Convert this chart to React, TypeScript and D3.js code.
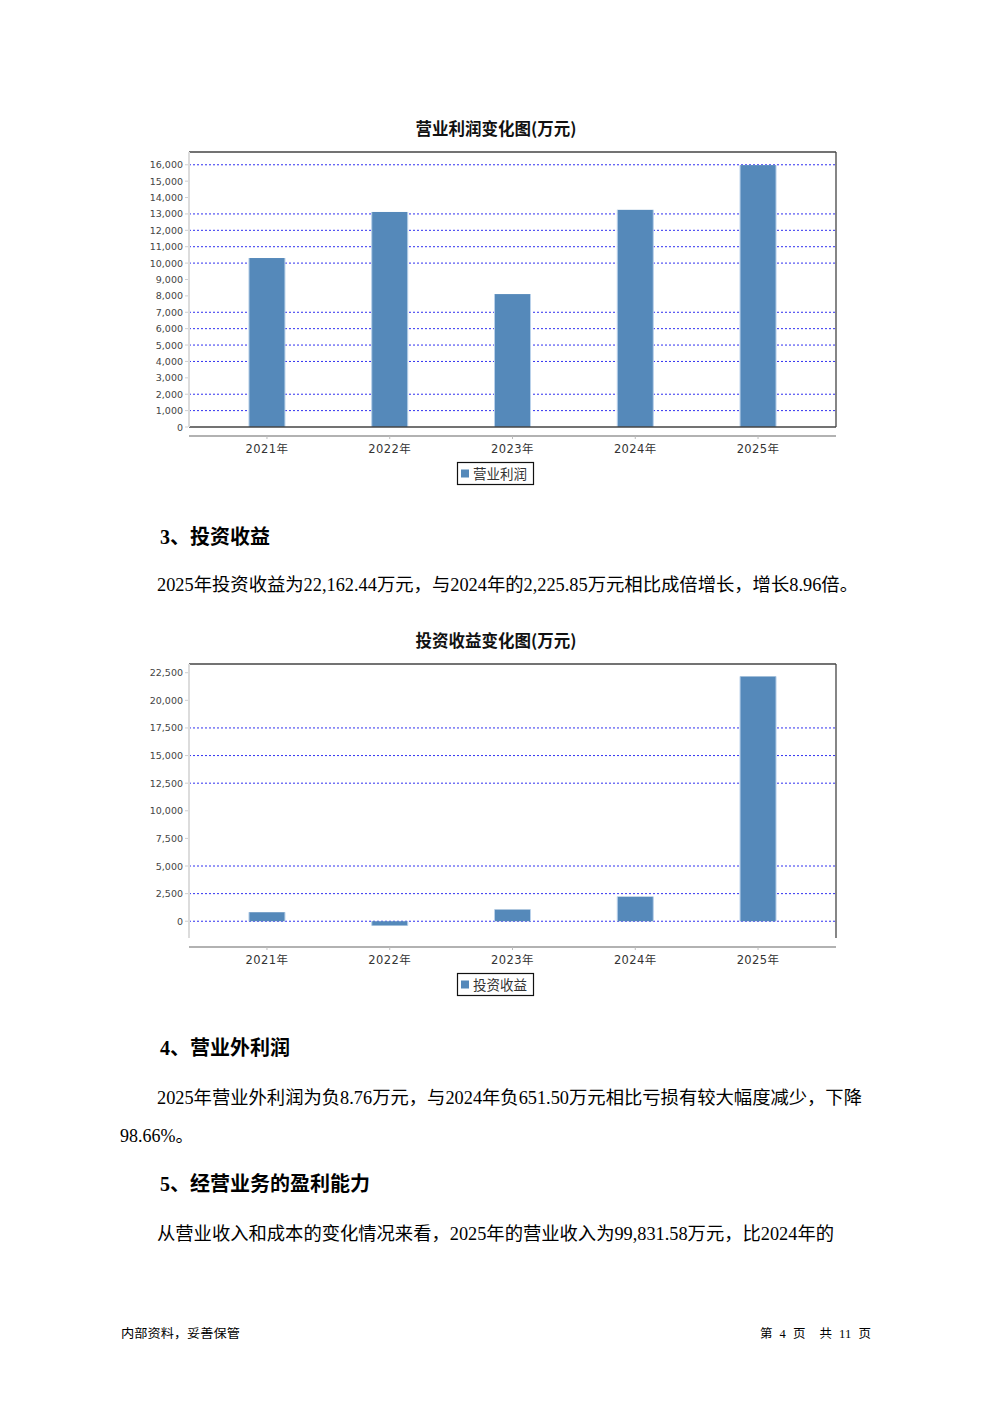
import React from "react";
import * as d3 from "d3";

const years = ["2021年", "2022年", "2023年", "2024年", "2025年"];
const operatingProfit = [10310, 13120, 8110, 13250, 15980];
const investmentIncome = [815, -390, 1060, 2225.85, 22162.44];

const profitTicks = [0, 1000, 2000, 3000, 4000, 5000, 6000, 7000, 8000, 9000, 10000, 11000, 12000, 13000, 14000, 15000, 16000];
const profitGrid = [1000, 2000, 4000, 5000, 6000, 7000, 10000, 11000, 12000, 13000, 16000];
const investTicks = [0, 2500, 5000, 7500, 10000, 12500, 15000, 17500, 20000, 22500];
const investGrid = [0, 2500, 5000, 12500, 15000, 17500];

const profitTitle = "营业利润变化图(万元)";
const profitLegend = "营业利润";
const investTitle = "投资收益变化图(万元)";
const investLegend = "投资收益";

const BAR = "#5589ba";
const GRID = "#3030f0";
const LABEL_FONT = "'DejaVu Sans', 'Noto Sans CJK SC', sans-serif";
const CJK_SANS = "'Noto Sans CJK SC', sans-serif";
const BODY_FONT = "'Liberation Serif', 'Noto Sans CJK SC', serif";

type ChartProps = {
  top: number;
  plotTop: number;
  plotBottom: number;
  axisY: number;
  values: number[];
  ticks: number[];
  grid: number[];
  title: string;
  legend: string;
  includeZeroOnly: boolean;
  bottomLine: boolean;
};

function BarChart(p: ChartProps) {
  const left = 189;
  const right = 836;
  const min = d3.min(p.values) as number;
  const max = d3.max(p.values) as number;
  let domain: [number, number];
  if (p.includeZeroOnly) {
    domain = [0, max * 1.05];
  } else {
    const r = max - min;
    domain = [min - r * 0.05, max + r * 0.05];
  }
  const y = d3.scaleLinear().domain(domain).range([p.plotBottom, p.plotTop]);
  const x = d3.scalePoint<string>().domain(years).range([left, right]).padding(0.635);
  const bw = 36;
  const fmt = d3.format(",");
  return (
    <g>
      <text x={496} y={p.top} textAnchor="middle" fontFamily={CJK_SANS} fontWeight="bold" fontSize={16.5} fill="#111">
        {p.title}
      </text>
      {p.grid.map((g) => (
        <line key={"g" + g} x1={left} x2={right} y1={y(g)} y2={y(g)} stroke={GRID} strokeWidth={1} strokeDasharray="2,2" />
      ))}
      {p.values.map((v, i) => {
        const cx = x(years[i]) as number;
        const y0 = y(0);
        const y1 = y(v);
        return (
          <g key={"b" + i}>
            <rect x={cx - bw / 2} y={Math.min(y0, y1)} width={bw} height={Math.abs(y1 - y0)} fill={BAR} />
            <line x1={cx - bw / 2} x2={cx - bw / 2} y1={Math.min(y0, y1)} y2={Math.max(y0, y1)} stroke="#b9d1ea" strokeWidth={1} />
            <line x1={cx + bw / 2} x2={cx + bw / 2} y1={Math.min(y0, y1)} y2={Math.max(y0, y1)} stroke="#b9d1ea" strokeWidth={1} />
          </g>
        );
      })}
      <line x1={left} x2={right} y1={p.plotTop} y2={p.plotTop} stroke="#444" strokeWidth={1.3} />
      <line x1={right} x2={right} y1={p.plotTop} y2={p.plotBottom} stroke="#444" strokeWidth={1.3} />
      {p.bottomLine && <line x1={left} x2={right} y1={p.plotBottom} y2={p.plotBottom} stroke="#444" strokeWidth={1.3} />}
      <line x1={left} x2={left} y1={p.plotTop} y2={p.plotBottom} stroke="#dcdcdc" strokeWidth={2} />
      {p.ticks.map((t) => (
        <g key={"t" + t}>
          <line x1={185} x2={188} y1={y(t)} y2={y(t)} stroke="#cfcfcf" strokeWidth={1} />
          <text x={183} y={y(t) + 3.5} textAnchor="end" fontFamily={LABEL_FONT} fontSize={9.5} fill="#444">
            {fmt(t)}
          </text>
        </g>
      ))}
      <line x1={left} x2={right} y1={p.axisY} y2={p.axisY} stroke="#999" strokeWidth={1.3} />
      {years.map((c) => (
        <g key={"x" + c}>
          <line x1={x(c)} x2={x(c)} y1={p.axisY} y2={p.axisY + 3} stroke="#bbb" strokeWidth={1} />
          <text x={x(c)} y={p.axisY + 16.5} textAnchor="middle" fontFamily={LABEL_FONT} fontSize={11.5} fill="#333" letterSpacing={0.4}>
            {c}
          </text>
        </g>
      ))}
      <rect x={457.5} y={p.axisY + 26.5} width={76} height={22} fill="#fff" stroke="#111" strokeWidth={1.2} />
      <rect x={461} y={p.axisY + 33.5} width={8} height={8} fill={BAR} />
      <text x={473} y={p.axisY + 42.5} fontFamily={CJK_SANS} fontSize={13.5} fill="#333">
        {p.legend}
      </text>
    </g>
  );
}

export default function App() {
  return (
    <div style={{ position: "absolute", left: 0, top: 0 }}>
      <svg width={992} height={1403} viewBox="0 0 992 1403" style={{ display: "block", background: "#fff" }}>
        <rect x={0} y={0} width={992} height={1403} fill="#fff" />
        <BarChart
          top={135}
          plotTop={152}
          plotBottom={427}
          axisY={436}
          values={operatingProfit}
          ticks={profitTicks}
          grid={profitGrid}
          title={profitTitle}
          legend={profitLegend}
          includeZeroOnly={true}
          bottomLine={true}
        />
        <text x={160} y={544} fontFamily={BODY_FONT} fontWeight="bold" fontSize={20} fill="#000">3、投资收益</text>
        <text x={157} y={591} fontFamily={BODY_FONT} fontSize={18} fill="#000" textLength={701} lengthAdjust="spacingAndGlyphs">
          2025年投资收益为22,162.44万元，与2024年的2,225.85万元相比成倍增长，增长8.96倍。
        </text>
        <BarChart
          top={647}
          plotTop={664}
          plotBottom={938}
          axisY={947}
          values={investmentIncome}
          ticks={investTicks}
          grid={investGrid}
          title={investTitle}
          legend={investLegend}
          includeZeroOnly={false}
          bottomLine={false}
        />
        <text x={160} y={1055} fontFamily={BODY_FONT} fontWeight="bold" fontSize={20} fill="#000">4、营业外利润</text>
        <text x={157} y={1104} fontFamily={BODY_FONT} fontSize={18} fill="#000" textLength={705} lengthAdjust="spacingAndGlyphs">
          2025年营业外利润为负8.76万元，与2024年负651.50万元相比亏损有较大幅度减少，下降
        </text>
        <text x={120} y={1142} fontFamily={BODY_FONT} fontSize={18} fill="#000">98.66%。</text>
        <text x={160} y={1191} fontFamily={BODY_FONT} fontWeight="bold" fontSize={20} fill="#000">5、经营业务的盈利能力</text>
        <text x={157} y={1240} fontFamily={BODY_FONT} fontSize={18} fill="#000" textLength={677} lengthAdjust="spacingAndGlyphs">
          从营业收入和成本的变化情况来看，2025年的营业收入为99,831.58万元，比2024年的
        </text>
        <text x={121} y={1338} fontFamily={BODY_FONT} fontSize={12.5} fill="#000" textLength={119} lengthAdjust="spacingAndGlyphs">内部资料，妥善保管</text>
        <text x={760} y={1338} fontFamily={BODY_FONT} fontSize={12.5} fill="#000" xmlSpace="preserve" textLength={111} lengthAdjust="spacing">第  4  页    共  11  页</text>
      </svg>
    </div>
  );
}
